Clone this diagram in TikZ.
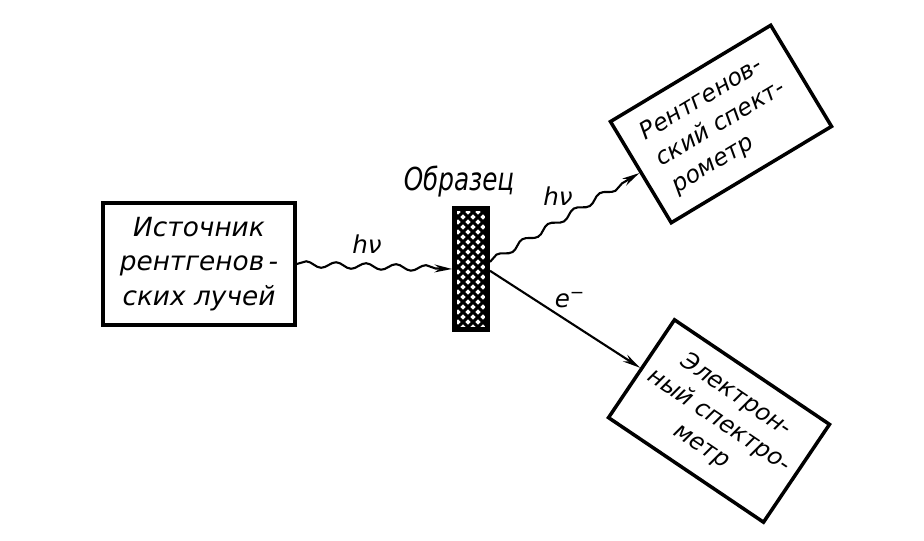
\documentclass[tikz,border=0pt]{standalone}
\usepackage{fontspec}
\newfontfamily\gostfont{DejaVu Sans}
\usetikzlibrary{arrows.meta,decorations.pathmorphing}

\tikzset{
  device/.style={draw, line width=2pt, inner sep=0pt,
    font=\gostfont\itshape\fontsize{15}{19.5}\selectfont},
  tiltbox/.style={device, minimum width=3.74cm, minimum height=2.36cm,
    font=\gostfont\itshape\fontsize{13.5}{17.5}\selectfont},
  tag/.style={font=\gostfont\itshape\fontsize{14}{16}\selectfont},
  photon/.style={line width=1.2pt, -{Stealth[length=10pt,width=4.5pt]},
    decorate, decoration={snake, amplitude=0.06cm, segment length=0.6cm,
    post length=0.3cm}},
  electron/.style={line width=1.2pt, -{Stealth[length=10pt,width=4.5pt]}}
}

\begin{document}
\begin{tikzpicture}[x=0.02cm, y=-0.02cm]
\useasboundingbox (0,0) rectangle (924,541);

% Source, sample and the two spectrometers
\node[device, minimum width=3.84cm, minimum height=2.44cm, align=center]
  (source) at (199,264) {Источник\\рентгенов\,-\\ских лучей};
\node[draw, line width=2.8pt, minimum width=0.66cm, minimum height=2.42cm]
  (sample) at (471,269) {};
\node[tiltbox, rotate=31, align=left]
  (xspec) at (721,124) {Рентгенов-\\ский спект-\\рометр};
\node[tiltbox, rotate=-34, align=center]
  (espec) at (719,421) {Электрон-\\ный спектро-\\метр};

% Cross hatching of the sample
\begin{scope}
  \clip (sample.south west) rectangle (sample.north east);
  \foreach \d in {0,10,...,170} {
    \draw[line width=1.8pt] (318+\d,207) -- ++(130,130);
    \draw[line width=1.8pt] (318+\d,337) -- ++(130,-130);
  }
\end{scope}
\node[draw, line width=2.8pt, minimum width=0.66cm, minimum height=2.42cm]
  at (sample) {};

% Labels
\node[font=\gostfont\itshape\fontsize{18}{20}\selectfont, xscale=0.78]
  (sampletitle) at (459,182) {Образец};
\node[tag] (hnuin) at (367,244) {hν};
\node[tag] (hnuout) at (558,196) {hν};
\node[tag] (elabel) at (570,300) {e\textsuperscript{−}};

% Beams
\draw[photon] (source.east) -- (sample.west);
\draw[photon] ([yshift=4pt]sample.east) -- (xspec.west);
\draw[electron] ([yshift=-1pt]sample.east) -- (espec.west);

\end{tikzpicture}
\end{document}
